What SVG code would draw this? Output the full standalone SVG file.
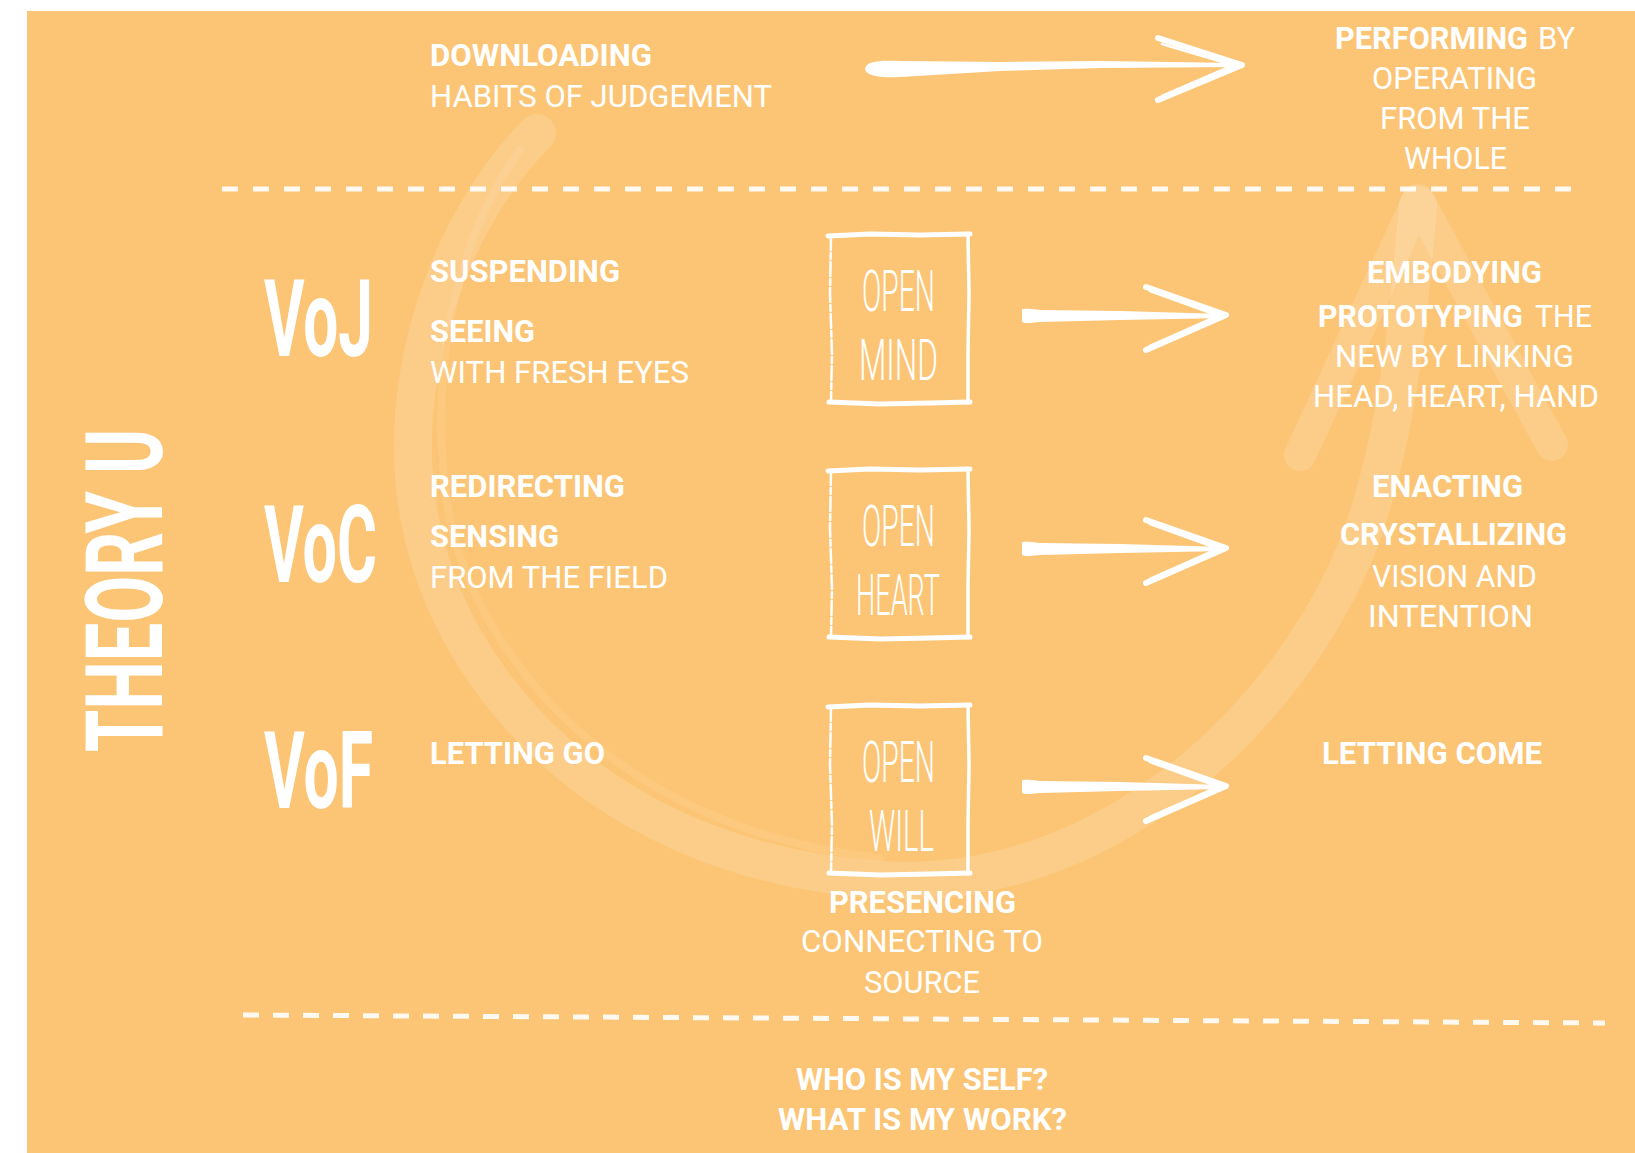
<svg xmlns="http://www.w3.org/2000/svg" xmlns:xlink="http://www.w3.org/1999/xlink" width="1635" height="1153" viewBox="0 0 1635 1153">
<style>
text{fill:#ffffff;font-family:Roboto,"Liberation Sans",sans-serif}
.b{font-weight:700;font-size:31px}
.r{font-weight:400;font-size:31px}
.bo{font-weight:700}
.re{font-weight:400}
.big{font-weight:700;font-size:107px}
.hand{font-weight:300;font-size:58px}
.dash{stroke:#ffffff;stroke-opacity:.9;stroke-width:5;fill:none}
.faint{stroke:#ffffff;fill:none;stroke-linecap:round;stroke-linejoin:round}
.barb{stroke:#ffffff;fill:none;stroke-linecap:round;stroke-linejoin:round}
.box{stroke:#ffffff;fill:none;stroke-linecap:round}
</style>
<defs>
<g id="rowArrow">
<path d="M1022 -6 C1022 -8 1030 -7 1040 -6 L1120 -5 L1224 -2 L1224 2 L1120 4 L1040 6 C1030 7 1022 8 1022 5 Z" fill="#ffffff"/>
<path class="barb" d="M1146 -29 L1226 -1 L1146 34" stroke-width="6"/>
<path class="barb" d="M1150 -25 L1222 1 M1222 -2 L1150 30" stroke-width="2.5"/>
</g>
<g id="box">
<path class="box" d="M-2 2 L40 0 L90 1 L140 0" stroke-width="5"/>
<path class="box" d="M138 0 L139 60 L138 120 L138 169" stroke-width="3.5"/>
<path class="box" d="M-1 168 L50 170 L100 169 L140 168" stroke-width="5"/>
<path class="box" d="M1 2 L0 60 L2 120 L1 168" stroke-width="2.5" stroke-dasharray="14 3 6 3"/>
</g>
</defs>
<rect x="27" y="11" width="1608" height="1142" fill="#FCC575"/>
<g id="connectors">
<g id="u-curve">
<path class="faint" d="M537 133 C450 220 392 380 420 520 C450 680 600 860 880 880 C1100 895 1290 720 1360 540 C1400 430 1410 300 1418 205" stroke-width="38" stroke-opacity=".15"/>
<path class="faint" d="M520 150 C455 240 425 380 450 520 C480 660 620 830 880 858" stroke-width="8" stroke-opacity=".08"/>
<path class="faint" d="M1300 455 L1418 200 L1552 445" stroke-width="32" stroke-opacity=".15"/>
</g>
<line class="dash" x1="222" y1="189" x2="1585" y2="189" stroke-dasharray="16 15"/>
<line class="dash" x1="243" y1="1015" x2="1605" y2="1023" stroke-dasharray="16 14"/>
<g id="arrow-top">
<path d="M865 69 C866 61 880 60 900 61 L1000 62 L1100 61 L1238 63 L1238 67 L1100 68 L1000 71 L900 77 C880 78 866 76 865 69 Z" fill="#ffffff"/>
<path class="barb" d="M1158 38 L1242 65 L1158 100" stroke-width="6"/>
<path class="barb" d="M1162 44 L1236 66 M1236 64 L1162 96" stroke-width="2.5"/>
</g>
<use id="arrow-voj" xlink:href="#rowArrow" transform="translate(0,316)"/>
<use id="arrow-voc" xlink:href="#rowArrow" transform="translate(0,549)"/>
<use id="arrow-vof" xlink:href="#rowArrow" transform="translate(0,787)"/>
</g>
<g id="title">
<text class="big" transform="translate(162,752) rotate(-90)" font-size="100" textLength="323" lengthAdjust="spacingAndGlyphs">THEORY U</text>
</g>
<g id="downloading">
<text class="b" x="430" y="66" textLength="222" lengthAdjust="spacingAndGlyphs">DOWNLOADING</text>
<text class="r" x="430" y="107" textLength="342" lengthAdjust="spacingAndGlyphs">HABITS OF JUDGEMENT</text>
</g>
<g id="performing">
<text font-size="31"><tspan class="bo" x="1335" y="49" textLength="193" lengthAdjust="spacingAndGlyphs">PERFORMING</tspan><tspan class="re" x="1538" y="49" textLength="37" lengthAdjust="spacingAndGlyphs">BY</tspan></text>
<text class="r" x="1372" y="89" textLength="165" lengthAdjust="spacingAndGlyphs">OPERATING</text>
<text class="r" x="1380" y="129" textLength="150" lengthAdjust="spacingAndGlyphs">FROM THE</text>
<text class="r" x="1404" y="169" textLength="103" lengthAdjust="spacingAndGlyphs">WHOLE</text>
</g>
<g id="voj">
<text class="big" transform="translate(264,356) scale(0.575,1)" x="0" y="0" textLength="189.6" lengthAdjust="spacingAndGlyphs">VoJ</text>
</g>
<g id="voc">
<text class="big" transform="translate(264,582) scale(0.565,1)" x="0" y="0" textLength="200" lengthAdjust="spacingAndGlyphs">VoC</text>
</g>
<g id="vof">
<text class="big" transform="translate(264,808) scale(0.575,1)" x="0" y="0" textLength="189.6" lengthAdjust="spacingAndGlyphs">VoF</text>
</g>
<g id="suspending">
<text class="b" x="430" y="282" textLength="190" lengthAdjust="spacingAndGlyphs">SUSPENDING</text>
<text class="b" x="430" y="342" textLength="105" lengthAdjust="spacingAndGlyphs">SEEING</text>
<text class="r" x="430" y="383" textLength="259" lengthAdjust="spacingAndGlyphs">WITH FRESH EYES</text>
</g>
<g id="redirecting">
<text class="b" x="430" y="497" textLength="195" lengthAdjust="spacingAndGlyphs">REDIRECTING</text>
<text class="b" x="430" y="547" textLength="129" lengthAdjust="spacingAndGlyphs">SENSING</text>
<text class="r" x="430" y="588" textLength="238" lengthAdjust="spacingAndGlyphs">FROM THE FIELD</text>
</g>
<g id="letting-go">
<text class="b" x="430" y="764" textLength="175" lengthAdjust="spacingAndGlyphs">LETTING GO</text>
</g>
<g id="open-mind">
<use xlink:href="#box" transform="translate(830,234)"/>
<text class="hand" x="862" y="311" textLength="73" lengthAdjust="spacingAndGlyphs">OPEN</text>
<text class="hand" x="859" y="380" textLength="79" lengthAdjust="spacingAndGlyphs">MIND</text>
</g>
<g id="open-heart">
<use xlink:href="#box" transform="translate(830,469)"/>
<text class="hand" x="862" y="546" textLength="73" lengthAdjust="spacingAndGlyphs">OPEN</text>
<text class="hand" x="856" y="615" textLength="84" lengthAdjust="spacingAndGlyphs">HEART</text>
</g>
<g id="open-will">
<use xlink:href="#box" transform="translate(830,705)"/>
<text class="hand" x="862" y="782" textLength="73" lengthAdjust="spacingAndGlyphs">OPEN</text>
<text class="hand" x="869" y="851" textLength="65" lengthAdjust="spacingAndGlyphs">WILL</text>
</g>
<g id="presencing">
<text class="b" x="829" y="913" textLength="187" lengthAdjust="spacingAndGlyphs">PRESENCING</text>
<text class="r" x="801" y="952" textLength="242" lengthAdjust="spacingAndGlyphs">CONNECTING TO</text>
<text class="r" x="864" y="993" textLength="116" lengthAdjust="spacingAndGlyphs">SOURCE</text>
</g>
<g id="embodying">
<text class="b" x="1367" y="283" textLength="175" lengthAdjust="spacingAndGlyphs">EMBODYING</text>
<text font-size="31"><tspan class="bo" x="1318" y="327" textLength="205" lengthAdjust="spacingAndGlyphs">PROTOTYPING</tspan><tspan class="re" x="1535" y="327" textLength="57" lengthAdjust="spacingAndGlyphs">THE</tspan></text>
<text class="r" x="1335" y="367" textLength="239" lengthAdjust="spacingAndGlyphs">NEW BY LINKING</text>
<text class="r" x="1313" y="407" textLength="286" lengthAdjust="spacingAndGlyphs">HEAD, HEART, HAND</text>
</g>
<g id="enacting">
<text class="b" x="1372" y="497" textLength="151" lengthAdjust="spacingAndGlyphs">ENACTING</text>
<text class="b" x="1340" y="545" textLength="227" lengthAdjust="spacingAndGlyphs">CRYSTALLIZING</text>
<text class="r" x="1372" y="587" textLength="165" lengthAdjust="spacingAndGlyphs">VISION AND</text>
<text class="r" x="1368" y="627" textLength="165" lengthAdjust="spacingAndGlyphs">INTENTION</text>
</g>
<g id="letting-come">
<text class="b" x="1322" y="764" textLength="220" lengthAdjust="spacingAndGlyphs">LETTING COME</text>
</g>
<g id="questions">
<text class="b" x="796" y="1090" font-size="32" textLength="252" lengthAdjust="spacingAndGlyphs">WHO IS MY SELF?</text>
<text class="b" x="778" y="1130" font-size="32" textLength="289" lengthAdjust="spacingAndGlyphs">WHAT IS MY WORK?</text>
</g>
</svg>
